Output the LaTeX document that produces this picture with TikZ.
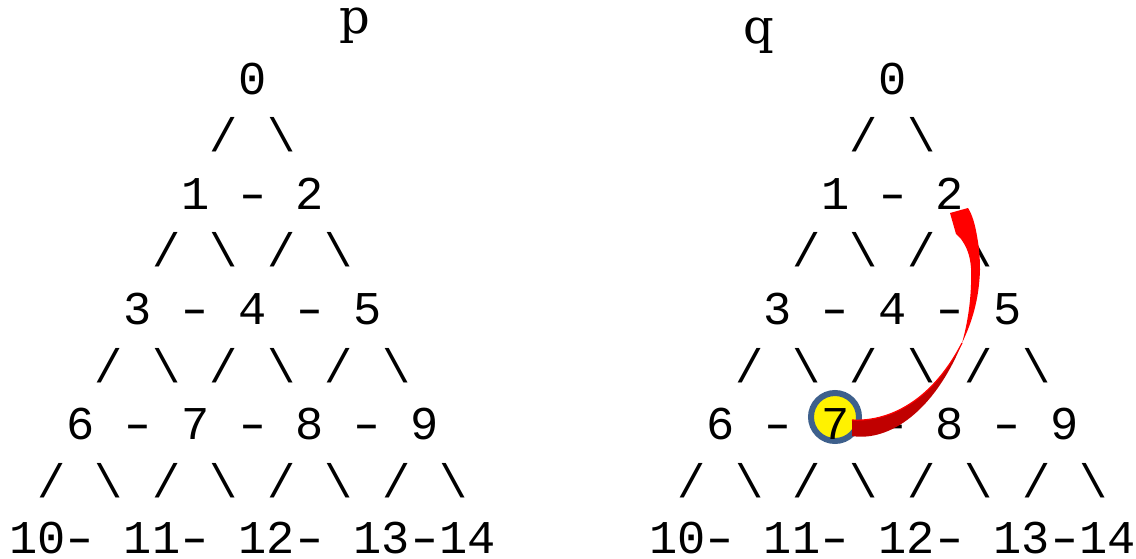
\documentclass[tikz,border=0pt]{standalone}
\usepackage{fontspec}
\setmonofont{Liberation Mono}
\newfontfamily\titlefont{DejaVu Serif}
\definecolor{ringblue}{RGB}{62,96,140}
\definecolor{backred}{RGB}{192,0,0}
\newcommand\widedash{\scalebox{1.45}[1]{-}}
\begin{document}
\begin{tikzpicture}[x=0.5pt,y=-0.5pt,
  tok/.style={inner sep=0pt, anchor=base, font=\ttfamily\fontsize{23.5}{23.5}\selectfont},
  ttl/.style={inner sep=0pt, anchor=base, font=\titlefont\fontsize{24}{24}\selectfont},
  ring/.style={circle, draw=ringblue, line width=3pt, fill=yellow, minimum size=24pt, inner sep=0pt}]
\useasboundingbox (0,0) rectangle (1136,558);
% titles
\node[ttl] (ptitle) at (355,33) {p};
\node[ttl] (qtitle) at (759,43) {q};
% highlight ring behind q's 7
\node[ring] (ring7) at (835,417) {};
\foreach \ox/\p in {0/p,640/q}{
  \foreach \m in {0,...,3}{
    \foreach \j in {0,...,\m}{
      \pgfmathtruncatemacro\num{\m*(\m+1)/2+\j}
      \node[tok] (\p\num) at ({\ox+23+28.7*(8-2*\m+4*\j)},{94+115.2*\m}) {\num};
      \node[tok] (\p sa\num) at ({\ox+23+28.7*(7-2*\m+4*\j)},{151.6+115.2*\m}) {/};
      \node[tok] (\p sb\num) at ({\ox+23+28.7*(9-2*\m+4*\j)},{151.6+115.2*\m}) {\textbackslash};
    }
    \ifnum\m>0
      \foreach \j in {1,...,\m}{
        \node[tok] (\p d\m\j) at ({\ox+23+28.7*(6-2*\m+4*\j)},{94+115.2*\m}) {\widedash};
      }
    \fi
  }
  \foreach \k/\t/\n in {0.5/10/10, 2/\widedash/d41, 4.5/11/11, 6/\widedash/d42, 8.5/12/12, 10/\widedash/d43, 12.5/13/13, 14/\widedash/d44, 15.5/14/14}{
    \node[tok] (\p\n) at ({\ox+23+28.7*\k},553.5) {\t};
  }
}
% curved arrow from 7 to 2 (q)
\coordinate (twist) at (962,343);
\fill[backred] (852,420) .. controls (885,422) and (930,405) .. (twist)
  .. controls (935,410) and (890,442) .. (852,436) -- cycle;
\draw[red, line width=0.6pt] (852,420) .. controls (885,422) and (930,405) .. (twist);
\fill[red] (twist) .. controls (972,322) and (979,300) .. (980,270)
  .. controls (980,252) and (978,242) .. (977,236)
  .. controls (975,224) and (972,214) .. (968,208)
  -- (950,213) -- (956,234) -- (961,239)
  .. controls (966,246) and (970,254) .. (971,268)
  .. controls (972,295) and (968,322) .. (twist) -- cycle;
\end{tikzpicture}
\end{document}
